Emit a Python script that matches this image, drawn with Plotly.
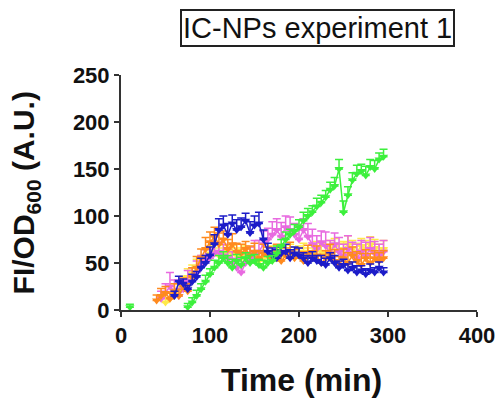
import plotly.graph_objects as go

times = list(range(10, 300, 5))
N = None

green = [3, N, N, N, N, N, N, N, N, N,
         N, N, N, 3, 8, 15, 22, 30, 38, 45,
         50, 55, 50, 45, 52, 48, 55, 50, 52, 48,
         45, 50, 52, 60, 68, 75, 80, 84, 88, 95,
         100, 104, 110, 114, 120, 128, 132, 150, 104, 122,
         138, 145, 148, 143, 152, 150, 160, 163]
green_err = [3, N, N, N, N, N, N, N, N, N,
             N, N, N, 4, 5, 6, 6, 7, 6, 8,
             8, 7, 8, 9, 7, 8, 6, 8, 7, 6,
             8, 7, 6, 8, 7, 8, 6, 7, 8, 9,
             8, 7, 9, 8, 7, 8, 9, 10, 12, 9,
             8, 9, 7, 10, 8, 9, 7, 8]

blue = [N] * 10 + [15, 30, 28, 22, 30, 35, 45, 50, 58, 70,
                   85, 90, 80, 92, 85, 88, 95, 82, 90, 92,
                   75, 62, 58, 55, 60, 62, 55, 60, 58, 55,
                   50, 55, 52, 50, 48, 55, 50, 45, 48, 42,
                   45, 40, 42, 38, 42, 40, 45, 40]
blue_err = [N] * 10 + [5, 6, 5, 4, 8, 6, 10, 8, 9, 10,
                       12, 10, 12, 9, 11, 10, 8, 12, 10, 12,
                       10, 9, 8, 9, 7, 8, 9, 7, 8, 6,
                       8, 7, 6, 8, 7, 6, 8, 7, 6, 7,
                       6, 7, 5, 6, 7, 5, 6, 5]

orange = [N] * 6 + [10, 15, 18, 12, 20, 15, 25, 20, 35, 45,
                    55, 65, 72, 78, 70, 75, 65, 70, 62, 60,
                    65, 58, 62, 55, 60, 58, 55, 60, 52, 58,
                    62, 55, 58, 52, 60, 55, 58, 50, 55, 60,
                    52, 48, 55, 50, 58, 52, 48, 55, 50, 55,
                    52, 55]
orange_err = [N] * 6 + [6, 8, 7, 6, 8, 7, 9, 8, 10, 12,
                        10, 12, 11, 10, 12, 9, 10, 11, 9, 10,
                        8, 10, 9, 8, 10, 9, 8, 10, 9, 8,
                        10, 9, 8, 10, 9, 8, 10, 9, 8, 10,
                        12, 9, 10, 11, 9, 10, 12, 9, 10, 8,
                        9, 8]

pink = [N] * 7 + [12, 18, 25, 20, 15, 22, 30, 35, 40, 48,
                  52, 55, 60, 62, 58, 55, 50, 45, 40, 50,
                  55, 60, 62, 70, 75, 80, 85, 78, 88, 85,
                  80, 75, 85, 78, 70, 65, 72, 68, 60, 70,
                  62, 58, 65, 60, 55, 62, 58, 65, 60, 58,
                  62]
pink_err = [N] * 7 + [8, 10, 15, 12, 8, 10, 12, 10, 12, 10,
                      12, 10, 12, 10, 12, 10, 12, 10, 8, 10,
                      12, 14, 12, 14, 12, 14, 12, 15, 12, 14,
                      12, 15, 12, 14, 16, 14, 12, 15, 14, 12,
                      15, 12, 14, 12, 15, 12, 14, 12, 13, 12,
                      12]

yellow = [N] * 8 + [8, 12, 15, 20, 28, 35, 40, 45, 50, 55,
                    60, 62, 58, 60, 55, 60, 58, 55, 60, 58,
                    55, 52, 55, 58, 60, 55, 58, 60, 62, 58,
                    60, 62, 58, 60, 65, 62, 60, 65, 68, 62,
                    65, 70, 66, 62, 68, 65, 70, 66, 62, 65]
yellow_err = [N] * 8 + [5, 6, 7, 8, 8, 9, 8, 9, 8, 9,
                        8, 9, 8, 9, 8, 9, 8, 9, 8, 9,
                        8, 9, 8, 9, 8, 9, 8, 9, 8, 9,
                        8, 9, 8, 9, 8, 9, 8, 9, 8, 9,
                        8, 9, 8, 9, 8, 9, 8, 9, 8, 9]

x_ticks = [0, 100, 200, 300, 400]
y_ticks = [0, 50, 100, 150, 200, 250]

series = [
    ("yellow", yellow, yellow_err, "#ffe94a"),
    ("pink", pink, pink_err, "#e86ae0"),
    ("orange", orange, orange_err, "#ff8a1e"),
    ("blue", blue, blue_err, "#1c1cc8"),
    ("green", green, green_err, "#3cf03c"),
]

fig = go.Figure()
for name, vals, err, col in series:
    fig.add_trace(go.Scatter(
        x=times, y=vals, name=name, mode="lines+markers",
        line=dict(color=col, width=1.5),
        marker=dict(symbol="triangle-down", size=8, color=col),
        error_y=dict(type="data", array=[e if e is not None else 0 for e in err],
                     arrayminus=[0] * len(err), symmetric=False,
                     color=col, thickness=1.5, width=4),
        connectgaps=False, cliponaxis=False, showlegend=False,
    ))

FONT = "Liberation Sans, Arial, sans-serif"
tick_font = dict(family=FONT, size=22, color="#111")
fig.update_layout(
    width=500, height=413,
    margin=dict(l=121, r=23, t=75, b=103),
    paper_bgcolor="white", plot_bgcolor="white",
    xaxis=dict(range=[0, 400], tickvals=x_ticks,
               ticktext=[f"<b>{v}</b>" for v in x_ticks],
               ticks="outside", ticklen=5, tickwidth=2, tickcolor="#333",
               showline=True, linecolor="#333", linewidth=2, showgrid=False, zeroline=False,
               tickfont=tick_font, automargin=False),
    yaxis=dict(range=[0, 250], tickvals=y_ticks,
               ticktext=[f"<b>{v}</b>" for v in y_ticks],
               ticks="outside", ticklen=5, tickwidth=2, tickcolor="#333",
               showline=True, linecolor="#333", linewidth=2, showgrid=False, zeroline=False,
               tickfont=tick_font, automargin=False),
    annotations=[
        dict(text="IC-NPs experiment 1", xref="paper", yref="paper",
             x=0.553, y=1.198, xanchor="center", yanchor="middle", showarrow=False,
             font=dict(family=FONT, size=29, color="#111"),
             bordercolor="#222", borderwidth=2, borderpad=1, bgcolor="white"),
        dict(text="<b>Time (min)</b>", xref="paper", yref="paper",
             x=0.508, y=-0.298, xanchor="center", yanchor="middle", showarrow=False,
             font=dict(family=FONT, size=32, color="#111")),
        dict(text="<b>FI/OD<sub>600</sub> (A.U.)</b>", xref="paper", yref="paper",
             x=-0.267, y=0.50, xanchor="center", yanchor="middle", showarrow=False,
             textangle=-90, font=dict(family=FONT, size=30, color="#111")),
    ],
)

fig.write_html("out.html",
               config={"displayModeBar": False},
               post_script="document.body.style.margin='0';document.body.style.overflow='hidden';")
